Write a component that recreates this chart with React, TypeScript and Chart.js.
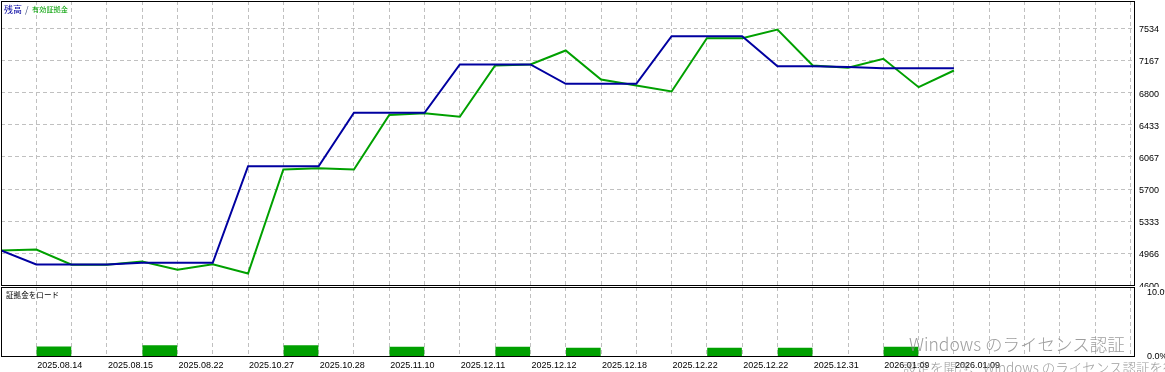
import React, { useEffect, useRef } from "react";
import { Chart, registerables } from "chart.js";

Chart.register(...registerables);

// ---------- data ----------
const dateLabels = [
  "2025.08.14", "2025.08.15", "2025.08.22", "2025.10.27", "2025.10.28",
  "2025.11.10", "2025.12.11", "2025.12.12", "2025.12.18", "2025.12.22",
  "2025.12.22", "2025.12.31", "2026.01.09", "2026.01.09",
];

const balance = [
  5000, 4840, 4840, 4840, 4859, 4859, 4859, 5961, 5961, 5961,
  6571, 6571, 6571, 7122, 7122, 7122, 6901, 6901, 6901, 7445,
  7445, 7445, 7102, 7102, 7094, 7079, 7079, 7079,
];

const equity = [
  5000, 5010, 4838, 4838, 4874, 4779, 4843, 4737, 5924, 5938,
  5924, 6545, 6564, 6526, 7110, 7122, 7281, 6951, 6882, 6814,
  7422, 7422, 7521, 7110, 7084, 7187, 6863, 7053,
];

const marginLoadIndex = [1, 4, 8, 11, 14, 16, 20, 22, 25];
const marginLoad = [1.6, 1.77, 1.77, 1.56, 1.56, 1.41, 1.41, 1.41, 1.56];

const yTicks = [4600, 4966, 5333, 5700, 6067, 6433, 6800, 7167, 7534];
const loadTicks = [0, 10];
const loadTickLabels = ["0.0%", "10.0%"];

const GRID_COUNT = 32;
const X_MAX = 32.13;

// ---------- styles ----------
const TICK_FONT = { family: '"Liberation Sans", Arial, sans-serif', size: 9 };
const GRID_COLOR = "#c0c0c0";
const DASH = [4, 3];
const BLUE = "#0000a0";
const GREEN = "#00a000";
const CJK = '"Noto Sans CJK JP", "Noto Sans", sans-serif';

const framePlugin = {
  id: "frame",
  afterDraw(chart: any) {
    const { ctx, chartArea } = chart;
    const { left, top, right, bottom } = chartArea;
    ctx.save();
    ctx.strokeStyle = "#000";
    ctx.lineWidth = 1;
    ctx.setLineDash([]);
    ctx.strokeRect(left + 0.5, top + 0.5, right - left - 1, bottom - top - 1);
    ctx.restore();
  },
};

const gridTicks = (s: any) => {
  s.ticks = Array.from({ length: GRID_COUNT }, (_, i) => ({ value: i + 1 }));
};

export default function App() {
  const mainRef = useRef<HTMLCanvasElement | null>(null);
  const subRef = useRef<HTMLCanvasElement | null>(null);

  useEffect(() => {
    const main = new Chart(mainRef.current as HTMLCanvasElement, {
      type: "line",
      data: {
        datasets: [
          {
            label: "残高",
            data: balance.map((v, i) => ({ x: i, y: v })),
            borderColor: BLUE,
            borderWidth: 2,
            pointRadius: 0,
            tension: 0,
          },
          {
            label: "有効証拠金",
            data: equity.map((v, i) => ({ x: i, y: v })),
            borderColor: GREEN,
            borderWidth: 2,
            pointRadius: 0,
            tension: 0,
          },
        ],
      },
      options: {
        animation: false,
        responsive: false,
        maintainAspectRatio: false,
        devicePixelRatio: 1,
        layout: { padding: { left: 1, top: 1, right: 0, bottom: 1 } },
        plugins: { legend: { display: false }, tooltip: { enabled: false } },
        scales: {
          x: {
            type: "linear",
            min: 0,
            max: X_MAX,
            afterBuildTicks: gridTicks,
            grid: { color: GRID_COLOR, drawTicks: false },
            border: { display: false, dash: DASH },
            ticks: { display: false },
            afterFit: (s: any) => {
              s.height = 0;
              s.paddingLeft = 0;
              s.paddingRight = 0;
            },
          },
          y: {
            position: "right",
            min: 4594.3,
            max: 7846,
            afterBuildTicks: (s: any) => {
              s.ticks = yTicks.map((v) => ({ value: v }));
            },
            ticks: {
              callback: (v: any) => String(v),
              color: "#000",
              font: TICK_FONT,
              padding: 4,
              labelOffset: 1.5,
              autoSkip: false,
            },
            grid: { color: GRID_COLOR, drawTicks: false },
            border: { display: false, dash: DASH },
            afterFit: (s: any) => {
              s.width = 30;
              s.paddingTop = 0;
              s.paddingBottom = 0;
            },
          },
        },
      } as any,
      plugins: [framePlugin],
    });

    const sub = new Chart(subRef.current as HTMLCanvasElement, {
      type: "bar",
      data: {
        datasets: [
          {
            label: "証拠金をロード",
            data: marginLoadIndex.map((idx, k) => ({ x: idx + 0.5, y: marginLoad[k] })),
            backgroundColor: GREEN,
            borderWidth: 0,
            barThickness: 34,
          },
        ],
      },
      options: {
        animation: false,
        responsive: false,
        maintainAspectRatio: false,
        devicePixelRatio: 1,
        layout: { padding: { left: 1, top: 0, right: 0, bottom: 0 } },
        plugins: { legend: { display: false }, tooltip: { enabled: false } },
        scales: {
          x: {
            type: "linear",
            min: 0,
            max: X_MAX,
            offset: false,
            afterBuildTicks: gridTicks,
            grid: { color: GRID_COLOR, drawTicks: false, offset: false },
            border: { display: false, dash: DASH },
            ticks: {
              autoSkip: false,
              maxRotation: 0,
              minRotation: 0,
              align: "start",
              padding: 3.5,
              labelOffset: 1,
              color: "#000",
              font: TICK_FONT,
              callback: (v: any) => {
                const k = (Number(v) - 1) / 2;
                return Number.isInteger(k) && k >= 0 && k < dateLabels.length ? dateLabels[k] : "";
              },
            },
            afterFit: (s: any) => {
              s.height = 15;
              s.paddingLeft = 0;
              s.paddingRight = 0;
            },
          },
          y: {
            position: "right",
            min: 0,
            max: 10.94,
            afterBuildTicks: (s: any) => {
              s.ticks = loadTicks.map((v) => ({ value: v }));
            },
            ticks: {
              callback: (v: any) => loadTickLabels[loadTicks.indexOf(Number(v))],
              color: "#000",
              font: TICK_FONT,
              padding: 4,
              autoSkip: false,
            },
            grid: { display: false },
            border: { display: false },
            afterFit: (s: any) => {
              s.width = 30;
              s.paddingTop = 0;
              s.paddingBottom = 0;
            },
          },
        },
      } as any,
      plugins: [framePlugin],
    });

    return () => {
      main.destroy();
      sub.destroy();
    };
  }, []);

  const abs = (left: number, top: number, extra: any = {}) => ({
    position: "absolute" as const,
    left,
    top,
    whiteSpace: "nowrap" as const,
    lineHeight: 1,
    ...extra,
  });

  return (
    <div
      style={{
        position: "fixed",
        left: 0,
        top: 0,
        width: 1165,
        height: 372,
        background: "#fff",
        overflow: "hidden",
      }}
    >
      <canvas
        ref={mainRef}
        width={1165}
        height={287}
        style={{ position: "absolute", left: 0, top: 0, width: 1165, height: 287 }}
      />
      <canvas
        ref={subRef}
        width={1165}
        height={85}
        style={{ position: "absolute", left: 0, top: 287, width: 1165, height: 85 }}
      />
      <span style={abs(4, 5, { fontFamily: CJK, fontSize: 9, color: BLUE })}>残高</span>
      <span style={abs(25, 5, { fontFamily: CJK, fontSize: 9, color: "#405080" })}>/</span>
      <span style={abs(32, 6, { fontFamily: CJK, fontSize: 7.2, color: GREEN })}>有効証拠金</span>
      <span style={abs(6, 291, { fontFamily: CJK, fontSize: 7.6, color: "#000" })}>証拠金をロード</span>
      <span
        style={abs(909, 335, {
          fontFamily: CJK,
          fontSize: 17.5,
          fontWeight: 300,
          color: "rgba(140,140,140,0.85)",
        })}
      >
        Windows のライセンス認証
      </span>
      <span
        style={abs(903, 361, {
          fontFamily: CJK,
          fontSize: 13.5,
          fontWeight: 300,
          color: "rgba(140,140,140,0.85)",
        })}
      >
        設定を開き、Windows のライセンス認証を行ってください。
      </span>
    </div>
  );
}
